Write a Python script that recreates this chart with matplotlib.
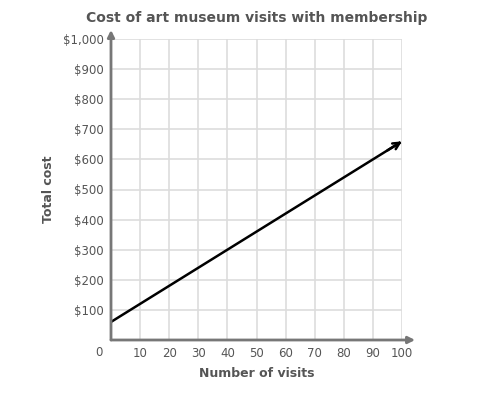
import matplotlib
matplotlib.use("Agg")
import matplotlib.pyplot as plt

visits = [0, 100]
cost = [60, 660]
x_ticks = [10, 20, 30, 40, 50, 60, 70, 80, 90, 100]
y_ticks = [100, 200, 300, 400, 500, 600, 700, 800, 900, 1000]
y_labels = ["$100", "$200", "$300", "$400", "$500", "$600", "$700", "$800", "$900", "$1,000"]

plt.rcParams['font.family'] = ['DejaVu Sans']
fig = plt.figure(figsize=(4.99, 4.0), dpi=100)
ax = fig.add_axes([111/499, 1-340/400, 291/499, 301/400])
ax.set_xlim(0, 100)
ax.set_ylim(0, 1000)

txt = '#555555'
axc = '#777777'
for v in x_ticks:
    ax.axvline(v, color='#dddddd', lw=1.2, zorder=0)
for v in y_ticks:
    ax.axhline(v, color='#dddddd', lw=1.2, zorder=0)

for s in ax.spines.values():
    s.set_visible(False)

# axes with arrows
ax.annotate('', xy=(104.5, 0), xytext=(0, 0), xycoords='data',
            arrowprops=dict(arrowstyle='-|>', color=axc, lw=2, mutation_scale=10, shrinkA=0, shrinkB=0),
            annotation_clip=False)
ax.annotate('', xy=(0, 1030), xytext=(0, 0), xycoords='data',
            arrowprops=dict(arrowstyle='-|>', color=axc, lw=2, mutation_scale=10, shrinkA=0, shrinkB=0),
            annotation_clip=False)

# line
ax.plot(visits[:1] + [visits[1] - 0.5], [cost[0], cost[0] + (cost[1]-cost[0]) * 0.995], color='black', lw=1.8, solid_capstyle='butt')
ax.annotate('', xy=(visits[1], cost[1]), xytext=(visits[1]-5, cost[1]-30),
            arrowprops=dict(arrowstyle='->', color='black', lw=1.8, mutation_scale=12, shrinkA=0, shrinkB=0),
            annotation_clip=False)

ax.set_xticks(x_ticks)
ax.set_xticklabels([str(v) for v in x_ticks])
ax.set_yticks(y_ticks)
ax.set_yticklabels(y_labels)
ax.tick_params(length=0, labelsize=8.5, colors=txt, pad=5)
ax.text(-3, -40, "0", ha='right', va='center', fontsize=8.5, color=txt)

ax.set_xlabel("Number of visits", fontsize=9, fontweight='bold', color=txt, labelpad=5)
ax.set_ylabel("Total cost", fontsize=9, fontweight='bold', color=txt, labelpad=6)
fig.text(0.515, 0.955, "Cost of art museum visits with membership", ha='center', va='center',
         fontsize=10, fontweight='bold', color=txt)

fig.savefig("out.png", dpi=100)
